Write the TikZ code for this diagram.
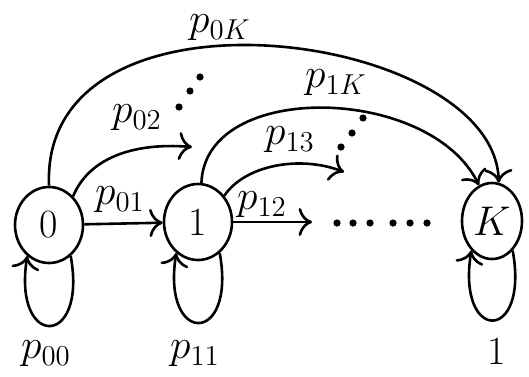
\documentclass[tikz,border=0pt]{standalone}
\usetikzlibrary{shapes.geometric,arrows.meta}
\begin{document}
\begin{tikzpicture}[
        x=0.5pt, y=-0.5pt,
        state/.style={
            draw,
            ellipse,
            line width=1.3pt,
            minimum width=34pt,
            minimum height=38pt,
            inner sep=0pt,
            font=\fontsize{20}{24}\selectfont
        },
        prob/.style={
            font=\fontsize{20}{24}\selectfont
        },
        trans/.style={
            -{To[scale=1.5]},
            line width=1.3pt
        },
        dot/.style={
            fill=black
        }
    ]

    \useasboundingbox (0,0) rectangle (529,376);

    % ---------------------------------------------------------
    % States
    % ---------------------------------------------------------
    \node[state] (n0) at (49,225) {0};
    \node[state] (n1) at (198,222) {1};
    \node[state, minimum width=30pt] (nK) at (492,221) {$K$};

    % free ends of the open transitions
    \coordinate (e02) at (192,147);
    \coordinate (e12) at (312,222);
    \coordinate (e13) at (344,172);

    % ---------------------------------------------------------
    % Transitions
    % ---------------------------------------------------------
    \draw[trans] (n0) -- (n1);
    \draw[trans] (n1.east) -- (e12);

    \draw[trans] (n0.50) .. controls (88,160) and (130,142) .. (e02);
    \draw[trans] (n1.45) .. controls (245,165) and (300,155) .. (e13);

    \draw[trans] (n0.north) .. controls (40,-30) and (495,30) .. (nK.80);
    \draw[trans] (n1.85) .. controls (205,80) and (430,85) .. (nK.110);

    % self loops
    \foreach \n in {n0,n1,nK} {
        \draw[trans] (\n.-55) .. controls +(17,93) and +(-15,93) .. (\n.-125);
    }

    % ---------------------------------------------------------
    % Dots
    % ---------------------------------------------------------
    \foreach \x in {337,353,370,393,410,427} {
        \fill[dot] (\x,223) circle[radius=1.8pt];
    }
    \foreach \x/\y in {200/77,190/91,179/107,363/118,352/133,341/147} {
        \fill[dot] (\x,\y) circle[radius=1.8pt];
    }

    % ---------------------------------------------------------
    % Labels
    % ---------------------------------------------------------
    \node[prob] (l0K) at (220,28) {$p_{0K}$};
    \node[prob] (l02) at (137,118) {$p_{02}$};
    \node[prob] (l01) at (120,200) {$p_{01}$};
    \node[prob] (l1K) at (336,83) {$p_{1K}$};
    \node[prob] (l13) at (290,140) {$p_{13}$};
    \node[prob] (l12) at (262,205) {$p_{12}$};
    \node[prob] (l00) at (46,354) {$p_{00}$};
    \node[prob] (l11) at (195,354) {$p_{11}$};
    \node[prob] (lKK) at (497,351) {1};

\end{tikzpicture}
\end{document}
